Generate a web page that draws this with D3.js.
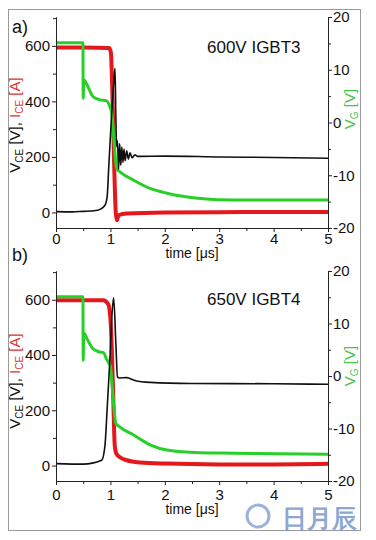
<!DOCTYPE html>
<html>
<head>
<meta charset="utf-8">
<script src="https://cdn.jsdelivr.net/npm/d3@7"></script>
<style>
body { margin: 0; background: #fff; }
svg text { font-family: "Liberation Sans", Arial, sans-serif; }
</style>
</head>
<body>
<svg id="chart" width="376" height="540"></svg>
<script>
// tick values
var timeTicks = [0, 1, 2, 3, 4, 5];
var timeMinor = [0.5, 1.5, 2.5, 3.5, 4.5];
var leftTicks = [0, 200, 400, 600];
var leftMinor = [100, 300, 500, 700];
var rightTicks = [-20, -10, 0, 10, 20];
var rightMinor = [-15, -5, 5, 15];

// panel a) 600V IGBT3  -- [time µs, value]
var vceA = [[0,3],[0.3,2],[0.5,4],[0.7,6],[0.81,11],[0.9,26],[0.94,56],[0.97,165],[1.02,345],[1.06,465],[1.085,519],
  [1.1,345],[1.115,237],[1.13,258],[1.15,155],[1.17,248],[1.19,170],[1.21,236],[1.23,180],[1.25,228],[1.27,186],
  [1.3,222],[1.33,192],[1.36,215],[1.4,197],[1.45,208],[1.5,202],[2,203],[3,200],[4,198],[5,195]];
var iceA = [[0,594],[0.5,594],[0.98,592],[1.01,574],[1.04,405],[1.07,165],[1.1,-4],[1.12,-28],[1.15,-10],
  [1.3,-4],[2,0],[3,1],[4,2],[5,2]];
var vgA = [[0,15.1],[0.495,15.1],[0.5,4.6],[0.51,8.1],[0.6,6.5],[0.68,4.9],[0.81,4.3],[0.93,4.1],[0.99,3.0],
  [1.03,1.5],[1.07,-4],[1.1,-7.7],[1.12,-8.8],[1.17,-9.3],[1.42,-10.9],[1.73,-12.5],[2.04,-13.4],[2.65,-14.4],
  [3.26,-14.7],[4,-14.7],[5,-14.7]];

// panel b) 650V IGBT4
var vceB = [[0,7],[0.5,5],[0.84,19],[0.9,72],[0.94,204],[0.99,382],[1.03,550],[1.06,607],[1.1,443],[1.13,321],
  [1.17,317],[1.3,318],[1.45,308],[1.73,301],[2.5,297],[4,296],[5,294]];
var iceB = [[0,598],[0.5,598],[0.87,598],[0.96,584],[1.01,501],[1.05,264],[1.08,72],[1.11,43],[1.17,31],
  [1.3,19],[1.55,11],[2,7],[3,4],[4,4],[5,6]];
var vgB = [[0,15.1],[0.495,15.1],[0.5,3.0],[0.51,8.2],[0.58,6.9],[0.67,5.3],[0.79,4.6],[0.88,4.4],[0.92,3.4],
  [0.97,2.5],[1.0,1.8],[1.04,-3],[1.1,-9.0],[1.17,-9.7],[1.42,-11.2],[1.73,-13.1],[2.04,-14.1],[2.65,-14.6],
  [3.26,-14.7],[5,-14.9]];

var svg = d3.select('#chart');

// outer frame
svg.append('rect')
  .attr('x', 8.5).attr('y', 9.5)
  .attr('width', 352).attr('height', 521)
  .attr('fill', 'none').attr('stroke', '#9a9a9a');

var panels = [
  { tag: 'a)', tagY: 33, title: '600V IGBT3', titleY: 53, top: 17, bottom: 228, pad: 1,
    timeY: 258, leftLabelY: 125, rightLabelY: 109, vce: vceA, ice: iceA, vg: vgA },
  { tag: 'b)', tagY: 261, title: '650V IGBT4', titleY: 305, top: 271, bottom: 481, pad: 4,
    timeY: 514, leftLabelY: 381, rightLabelY: 366, vce: vceB, ice: iceB, vg: vgB }
];

panels.forEach(function (p) {
  var x = d3.scaleLinear().domain([0, 5]).range([56, 328]);
  var yL = d3.scaleLinear().domain([-56, 704]).range([p.bottom, p.top]);
  var yR = d3.scaleLinear().domain([-20, 20]).range([p.bottom, p.top]);
  var g = svg.append('g');

  var lineL = d3.line().curve(d3.curveMonotoneX)
    .x(function (d) { return x(d[0]); }).y(function (d) { return yL(d[1]); });
  var lineR = d3.line().curve(d3.curveMonotoneX)
    .x(function (d) { return x(d[0]); }).y(function (d) { return yR(d[1]); });

  g.append('path').datum(p.ice).attr('d', lineL)
    .attr('fill', 'none').attr('stroke', '#e3171c').attr('stroke-width', 4).attr('stroke-linejoin', 'round');
  g.append('path').datum(p.vg).attr('d', lineR)
    .attr('fill', 'none').attr('stroke', '#27d027').attr('stroke-width', 3).attr('stroke-linejoin', 'round');
  g.append('path').datum(p.vce).attr('d', lineL)
    .attr('fill', 'none').attr('stroke', '#111').attr('stroke-width', 1.6).attr('stroke-linejoin', 'round');

  // axes
  function style(sel) {
    sel.selectAll('path, line').attr('stroke', '#222');
    sel.selectAll('text').attr('font-size', '15px').attr('fill', '#111')
      .attr('font-family', '"Liberation Sans", Arial, sans-serif');
  }
  var fmt = function (d) { return String(d); };

  g.append('g').attr('transform', 'translate(0,' + p.bottom + ')')
    .call(d3.axisBottom(x).tickValues(timeTicks).tickFormat(fmt).tickSize(4).tickSizeOuter(0).tickPadding(p.pad))
    .call(style);
  g.append('g').attr('transform', 'translate(0,' + p.bottom + ')')
    .call(d3.axisBottom(x).tickValues(timeMinor).tickFormat('').tickSize(3).tickSizeOuter(0))
    .call(style);

  g.append('g').attr('transform', 'translate(56,0)')
    .call(d3.axisLeft(yL).tickValues(leftTicks).tickFormat(fmt).tickSize(4).tickSizeOuter(0).tickPadding(2))
    .call(style);
  g.append('g').attr('transform', 'translate(56,0)')
    .call(d3.axisLeft(yL).tickValues(leftMinor).tickFormat('').tickSize(3).tickSizeOuter(0))
    .call(style);

  g.append('g').attr('transform', 'translate(328,0)')
    .call(d3.axisRight(yR).tickValues(rightTicks).tickFormat(fmt).tickSize(4).tickSizeOuter(0).tickPadding(1))
    .call(style);
  g.append('g').attr('transform', 'translate(328,0)')
    .call(d3.axisRight(yR).tickValues(rightMinor).tickFormat('').tickSize(3).tickSizeOuter(0))
    .call(style);

  // texts
  g.append('text').attr('x', 12).attr('y', p.tagY).attr('font-size', '18px').attr('fill', '#111').text(p.tag);
  g.append('text').attr('x', 207).attr('y', p.titleY).attr('font-size', '17px').attr('fill', '#111').text(p.title);
  g.append('text').attr('x', 192).attr('y', p.timeY).attr('text-anchor', 'middle')
    .attr('font-size', '14px').attr('fill', '#111').text('time [μs]');

  var lt = g.append('text').attr('transform', 'translate(20,' + p.leftLabelY + ') rotate(-90)')
    .attr('text-anchor', 'middle').attr('font-size', '15px');
  lt.append('tspan').attr('fill', '#111').text('V');
  lt.append('tspan').attr('fill', '#111').attr('font-size', '10px').attr('dy', '0.3em').text('CE');
  lt.append('tspan').attr('fill', '#111').attr('dy', '-0.2em').text(' [V], ');
  lt.append('tspan').attr('fill', '#d93a3a').text('I');
  lt.append('tspan').attr('fill', '#d93a3a').attr('font-size', '10px').attr('dy', '0.3em').text('CE');
  lt.append('tspan').attr('fill', '#d93a3a').attr('dy', '-0.2em').text(' [A]');

  var rt = g.append('text').attr('transform', 'translate(355,' + p.rightLabelY + ') rotate(-90)')
    .attr('text-anchor', 'middle').attr('font-size', '15px').attr('fill', '#4cc24c');
  rt.append('tspan').text('V');
  rt.append('tspan').attr('font-size', '10px').attr('dy', '0.3em').text('G');
  rt.append('tspan').attr('dy', '-0.2em').text(' [V]');
});

// watermark
var wm = svg.append('g').attr('opacity', 0.7);
wm.append('circle').attr('cx', 258).attr('cy', 516).attr('r', 11)
  .attr('fill', 'none').attr('stroke', '#6f93c9').attr('stroke-width', 3);
wm.append('text').attr('x', 282).attr('y', 527)
  .attr('font-family', '"Noto Sans CJK SC", sans-serif').attr('font-weight', 'bold')
  .attr('font-size', '25px').attr('fill', '#5b84c4').text('日月辰');
</script>
</body>
</html>
